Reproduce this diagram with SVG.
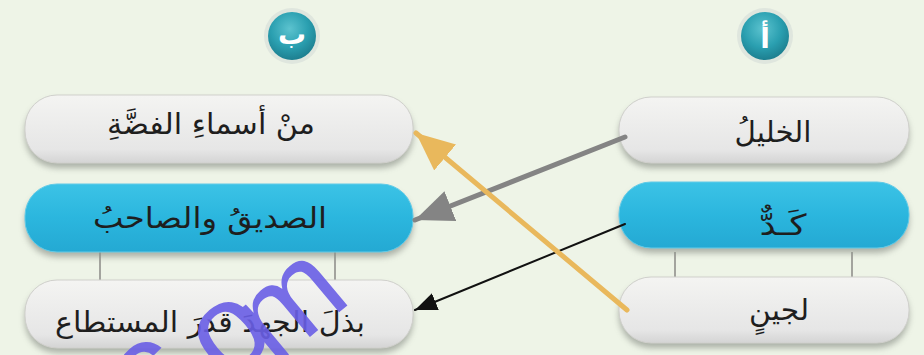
<svg xmlns="http://www.w3.org/2000/svg" width="924" height="355" viewBox="0 0 924 355">
<defs>
<linearGradient id="gGray" x1="0" y1="0" x2="0" y2="1">
<stop offset="0" stop-color="#f4f4f2"/>
<stop offset="0.8" stop-color="#e6e6e6"/>
<stop offset="1" stop-color="#d4d4d4"/>
</linearGradient>
<linearGradient id="gBlue" x1="0" y1="0" x2="0" y2="1">
<stop offset="0" stop-color="#3cc3e6"/>
<stop offset="0.5" stop-color="#2bb6de"/>
<stop offset="1" stop-color="#24a9d3"/>
</linearGradient>
<radialGradient id="gTeal" cx="0.45" cy="0.35" r="0.65">
<stop offset="0" stop-color="#5cc3cf"/>
<stop offset="0.6" stop-color="#2a9fb0"/>
<stop offset="1" stop-color="#1d7f90"/>
</radialGradient>
<filter id="sh" x="-10%" y="-20%" width="120%" height="150%">
<feGaussianBlur stdDeviation="3"/>
</filter>
<marker id="mGold" markerUnits="userSpaceOnUse" markerWidth="40" markerHeight="36" refX="38" refY="17" orient="auto">
<path d="M0,0 L38,17 L0,34 Z" fill="#e9b85c"/>
</marker>
<marker id="mGray" markerUnits="userSpaceOnUse" markerWidth="40" markerHeight="34" refX="38" refY="16" orient="auto">
<path d="M0,0 L38,16 L0,32 Z" fill="#848484"/>
</marker>
<marker id="mBlack" markerUnits="userSpaceOnUse" markerWidth="24" markerHeight="20" refX="22" refY="9" orient="auto">
<path d="M0,0 L22,9 L0,18 Z" fill="#111"/>
</marker>
</defs>
<style>
.shadow{fill:#8f948c;opacity:0.7;filter:url(#sh)}
.gray{fill:url(#gGray);stroke:#d0d0cc;stroke-width:1}
.blue{fill:url(#gBlue);stroke:#62cbe8;stroke-width:1}
.lbl{font-family:"DejaVu Sans",sans-serif;font-size:29px;fill:#1e1e1e;text-anchor:middle}
.hdr{font-family:"DejaVu Sans",sans-serif;font-size:28px;font-weight:bold;fill:#ffffff;text-anchor:middle}
.hang{stroke:#8a8a86;stroke-width:1.5}
</style>
<rect width="924" height="355" fill="#eef4e7"/>

<g id="header-b">
<circle cx="292" cy="36" r="28" fill="#dfe6de"/>
<circle cx="292" cy="36" r="24" fill="url(#gTeal)"/>
<text class="hdr" x="292" y="44" direction="rtl">ب</text>
</g>
<g id="header-a">
<circle cx="765" cy="36" r="28" fill="#dfe6de"/>
<circle cx="765" cy="36" r="24" fill="url(#gTeal)"/>
<text class="hdr" x="765" y="48" direction="rtl">أ</text>
</g>

<g id="hangers">
<line class="hang" x1="100" y1="252" x2="100" y2="280"/>
<line class="hang" x1="335" y1="252" x2="335" y2="280"/>
<line class="hang" x1="675" y1="252" x2="675" y2="280"/>
<line class="hang" x1="852" y1="252" x2="852" y2="280"/>
</g>

<g id="b1">
<rect class="shadow" x="25" y="100" width="388" height="68" rx="32"/>
<rect class="gray" x="25" y="95" width="388" height="68" rx="32"/>
<text class="lbl" x="211" y="134" direction="rtl" textLength="208" lengthAdjust="spacingAndGlyphs">منْ أسماءِ الفضَّةِ</text>
</g>
<g id="b2">
<rect class="shadow" x="25" y="189" width="388" height="68" rx="32"/>
<rect class="blue" x="25" y="184" width="388" height="68" rx="32"/>
<text class="lbl" x="210" y="228" direction="rtl" textLength="234" lengthAdjust="spacingAndGlyphs">الصديقُ والصاحبُ</text>
</g>
<g id="b3">
<rect class="shadow" x="25" y="285" width="388" height="68" rx="32"/>
<rect class="gray" x="25" y="280" width="388" height="68" rx="32"/>
<text class="lbl" x="210" y="332" direction="rtl" textLength="310" lengthAdjust="spacingAndGlyphs">بذلَ الجهدَ قدرَ المستطاع</text>
</g>

<g id="a1">
<rect class="shadow" x="619" y="102" width="290" height="66" rx="32"/>
<rect class="gray" x="619" y="97" width="290" height="66" rx="32"/>
<text class="lbl" x="773" y="142" direction="rtl" textLength="77" lengthAdjust="spacingAndGlyphs">الخليلُ</text>
</g>
<g id="a2">
<rect class="shadow" x="619" y="187" width="290" height="66" rx="32"/>
<rect class="blue" x="619" y="182" width="290" height="66" rx="32"/>
<text class="lbl" x="783" y="235" direction="rtl" textLength="47" lengthAdjust="spacingAndGlyphs">كَـدٌّ</text>
</g>
<g id="a3">
<rect class="shadow" x="619" y="282" width="290" height="66" rx="32"/>
<rect class="gray" x="619" y="277" width="290" height="66" rx="32"/>
<text class="lbl" x="779" y="320" direction="rtl" textLength="60" lengthAdjust="spacingAndGlyphs">لجينٍ</text>
</g>

<g id="connectors" fill="none" stroke-linecap="round">
<line x1="625" y1="137" x2="415" y2="220" stroke="#848484" stroke-width="5" marker-end="url(#mGray)"/>
<line x1="625" y1="224" x2="415" y2="310" stroke="#111" stroke-width="2" marker-end="url(#mBlack)"/>
<line x1="627" y1="310" x2="416" y2="133" stroke="#e9b85c" stroke-width="5" marker-end="url(#mGold)"/>
</g>

<g id="watermark" font-family="Liberation Sans, sans-serif" font-size="125" fill="#6a5fe6" opacity="0.9">
<text x="147 226 274" y="422 384 367" rotate="-40 -40 -40">com</text>
</g>
</svg>
